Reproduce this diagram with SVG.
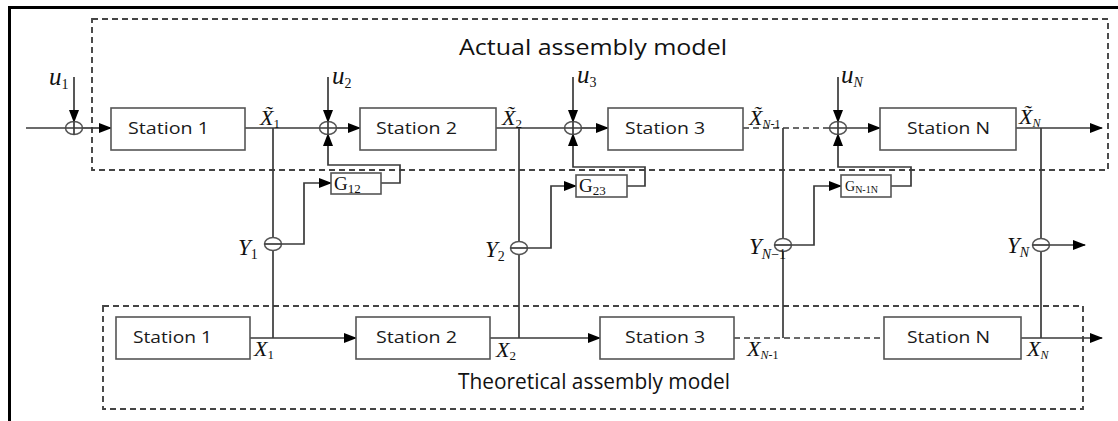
<svg xmlns="http://www.w3.org/2000/svg" width="1118" height="421" viewBox="0 0 1118 421">
<style>
.box{fill:#fff;stroke:#555;stroke-width:1.6}
.ln{fill:none;stroke:#3a3a3a;stroke-width:1.7}
.dl{fill:none;stroke:#3a3a3a;stroke-width:1.7;stroke-dasharray:6 4}
.grp{fill:none;stroke:#444;stroke-width:1.9;stroke-dasharray:6 4}
.ell{fill:#fff;stroke:#555;stroke-width:1.5}
.st{font-family:"Open Sans","Liberation Sans",sans-serif;font-size:17px;fill:#1a1a1a}
.ttl{font-family:"Open Sans","Liberation Sans",sans-serif;font-size:21px;fill:#111}
.m{font-family:"Liberation Serif",serif;font-style:italic;fill:#111}
.s{font-family:"Liberation Serif",serif;font-style:normal;fill:#111}
.g{font-family:"Liberation Serif",serif;fill:#111}
</style>
<defs>
<marker id="ah" markerUnits="userSpaceOnUse" markerWidth="13" markerHeight="10" refX="12" refY="5" orient="auto">
<path d="M0,0 L13,5 L0,10 Z" fill="#000"/>
</marker>
</defs>
<rect width="1118" height="421" fill="#fff"/>
<path d="M9.5,421 V7.5 H1118" fill="none" stroke="#000" stroke-width="3"/>

<g id="actual-model">
<rect class="grp" x="92" y="19" width="1016" height="151"/>
<text class="ttl" x="459" y="55" textLength="268" lengthAdjust="spacingAndGlyphs">Actual assembly model</text>
</g>
<g id="theoretical-model">
<rect class="grp" x="103" y="306" width="980" height="103"/>
<text class="ttl" x="458" y="389" textLength="272" lengthAdjust="spacingAndGlyphs">Theoretical assembly model</text>
</g>

<g id="connectors">
<line class="ln" x1="26" y1="128" x2="65.5" y2="128"/>
<line class="ln" x1="74" y1="77" x2="74" y2="122" marker-end="url(#ah)"/>
<line class="ln" x1="82.5" y1="128" x2="111" y2="128" marker-end="url(#ah)"/>
<line class="ln" x1="245" y1="128" x2="319.5" y2="128"/>
<line class="ln" x1="328" y1="77" x2="328" y2="122" marker-end="url(#ah)"/>
<line class="ln" x1="336.5" y1="128" x2="360" y2="128" marker-end="url(#ah)"/>
<line class="ln" x1="496" y1="128" x2="564.5" y2="128"/>
<line class="ln" x1="573" y1="77" x2="573" y2="122" marker-end="url(#ah)"/>
<line class="ln" x1="581.5" y1="128" x2="608" y2="128" marker-end="url(#ah)"/>
<line class="dl" x1="743" y1="128" x2="829.5" y2="128"/>
<line class="ln" x1="838" y1="77" x2="838" y2="122" marker-end="url(#ah)"/>
<line class="ln" x1="846.5" y1="128" x2="880" y2="128" marker-end="url(#ah)"/>
<line class="ln" x1="1016" y1="128" x2="1102" y2="128" marker-end="url(#ah)"/>
<line class="ln" x1="273" y1="128" x2="273" y2="338"/>
<line class="ln" x1="519" y1="128" x2="519" y2="338"/>
<line class="ln" x1="783" y1="128" x2="783" y2="338"/>
<line class="ln" x1="1041" y1="128" x2="1041" y2="338"/>
<polyline class="ln" points="281.5,244 304,244 304,183 331,183" marker-end="url(#ah)"/>
<polyline class="ln" points="381,183 400,183 400,165 328,165 328,134" marker-end="url(#ah)"/>
<polyline class="ln" points="527.5,248 551,248 551,186 576,186" marker-end="url(#ah)"/>
<polyline class="ln" points="627,186 645,186 645,167 573,167 573,134" marker-end="url(#ah)"/>
<polyline class="ln" points="791.5,245 814,245 814,186 841,186" marker-end="url(#ah)"/>
<polyline class="ln" points="891,186 911,186 911,167 838,167 838,134" marker-end="url(#ah)"/>
<line class="ln" x1="1049.5" y1="245" x2="1085" y2="245" marker-end="url(#ah)"/>
<line class="ln" x1="250" y1="338" x2="356" y2="338" marker-end="url(#ah)"/>
<line class="ln" x1="490" y1="338" x2="600" y2="338" marker-end="url(#ah)"/>
<line class="dl" x1="734" y1="338" x2="884" y2="338"/>
<line class="ln" x1="1021" y1="338" x2="1102" y2="338" marker-end="url(#ah)"/>
</g>

<g id="sum1"><ellipse class="ell" cx="74" cy="128" rx="8.5" ry="6.5"/><path class="ln" d="M65.5,128 H82.5 M74,121.5 V134.5"/></g>
<g id="sum2"><ellipse class="ell" cx="328" cy="128" rx="8.5" ry="6.5"/><path class="ln" d="M319.5,128 H336.5 M328,121.5 V134.5"/></g>
<g id="sum3"><ellipse class="ell" cx="573" cy="128" rx="8.5" ry="6.5"/><path class="ln" d="M564.5,128 H581.5 M573,121.5 V134.5"/></g>
<g id="sumN"><ellipse class="ell" cx="838" cy="128" rx="8.5" ry="6.5"/><path class="ln" d="M829.5,128 H846.5 M838,121.5 V134.5"/></g>

<g id="meas1"><ellipse class="ell" cx="273" cy="244" rx="8.5" ry="6.5"/><path class="ln" d="M264.5,244 H281.5"/></g>
<g id="meas2"><ellipse class="ell" cx="519" cy="248" rx="8.5" ry="6.5"/><path class="ln" d="M510.5,248 H527.5"/></g>
<g id="measN1"><ellipse class="ell" cx="783" cy="245" rx="8.5" ry="6.5"/><path class="ln" d="M774.5,245 H791.5"/></g>
<g id="measN"><ellipse class="ell" cx="1041" cy="245" rx="8.5" ry="6.5"/><path class="ln" d="M1032.5,245 H1049.5"/></g>

<g id="a-station1"><rect class="box" x="111" y="108" width="134" height="42"/><text class="st" x="128" y="134" textLength="81" lengthAdjust="spacingAndGlyphs">Station 1</text></g>
<g id="a-station2"><rect class="box" x="360" y="108" width="136" height="42"/><text class="st" x="376" y="134" textLength="81" lengthAdjust="spacingAndGlyphs">Station 2</text></g>
<g id="a-station3"><rect class="box" x="608" y="108" width="135" height="42"/><text class="st" x="625" y="134" textLength="80" lengthAdjust="spacingAndGlyphs">Station 3</text></g>
<g id="a-stationN"><rect class="box" x="880" y="108" width="136" height="42"/><text class="st" x="907" y="134" textLength="83" lengthAdjust="spacingAndGlyphs">Station N</text></g>

<g id="t-station1"><rect class="box" x="116" y="317" width="134" height="42"/><text class="st" x="133" y="343" textLength="79" lengthAdjust="spacingAndGlyphs">Station 1</text></g>
<g id="t-station2"><rect class="box" x="356" y="317" width="134" height="42"/><text class="st" x="376" y="343" textLength="81" lengthAdjust="spacingAndGlyphs">Station 2</text></g>
<g id="t-station3"><rect class="box" x="600" y="317" width="134" height="42"/><text class="st" x="625" y="343" textLength="80" lengthAdjust="spacingAndGlyphs">Station 3</text></g>
<g id="t-stationN"><rect class="box" x="884" y="317" width="137" height="42"/><text class="st" x="907" y="343" textLength="83" lengthAdjust="spacingAndGlyphs">Station N</text></g>

<g id="G12"><rect class="box" x="331" y="173" width="50" height="21"/><text class="g" x="334" y="190" font-size="19">G<tspan font-size="13" dy="3">12</tspan></text></g>
<g id="G23"><rect class="box" x="576" y="175" width="51" height="22"/><text class="g" x="579" y="192" font-size="19">G<tspan font-size="13" dy="3">23</tspan></text></g>
<g id="GN1N"><rect class="box" x="841" y="175" width="50" height="22"/><text class="g" x="845" y="191" font-size="14">G<tspan font-size="10" dy="2">N-1N</tspan></text></g>

<g id="labels">
<text class="m" x="49" y="85" font-size="25">u<tspan class="s" font-size="14" dy="4">1</tspan></text>
<text class="m" x="332" y="84" font-size="25">u<tspan class="s" font-size="14" dy="4">2</tspan></text>
<text class="m" x="577" y="83" font-size="25">u<tspan class="s" font-size="14" dy="4">3</tspan></text>
<text class="m" x="841" y="83" font-size="25">u<tspan font-size="14" dy="4">N</tspan></text>

<text class="m" x="260" y="125" font-size="22">X̃<tspan class="s" font-size="13" dy="3">1</tspan></text>
<text class="m" x="502" y="125" font-size="22">X̃<tspan class="s" font-size="13" dy="3">2</tspan></text>
<text class="m" x="749" y="125" font-size="22">X̃<tspan font-size="12" dy="3">N</tspan><tspan class="s" font-size="12">-1</tspan></text>
<text class="m" x="1019" y="124" font-size="22">X̃<tspan font-size="12" dy="3">N</tspan></text>

<text class="m" x="254" y="356" font-size="22">X<tspan class="s" font-size="13" dy="3">1</tspan></text>
<text class="m" x="496" y="357" font-size="22">X<tspan class="s" font-size="13" dy="3">2</tspan></text>
<text class="m" x="747" y="356" font-size="22">X<tspan font-size="12" dy="3">N</tspan><tspan class="s" font-size="12">-1</tspan></text>
<text class="m" x="1027" y="356" font-size="22">X<tspan font-size="12" dy="3">N</tspan></text>

<text class="m" x="238" y="255" font-size="23">Y<tspan class="s" font-size="14" dy="4">1</tspan></text>
<text class="m" x="485" y="257" font-size="23">Y<tspan class="s" font-size="14" dy="4">2</tspan></text>
<text class="m" x="749" y="254" font-size="23">Y<tspan font-size="14" dy="5">N</tspan><tspan class="s" font-size="14">−1</tspan></text>
<text class="m" x="1007" y="253" font-size="23">Y<tspan font-size="14" dy="4">N</tspan></text>
</g>
</svg>
